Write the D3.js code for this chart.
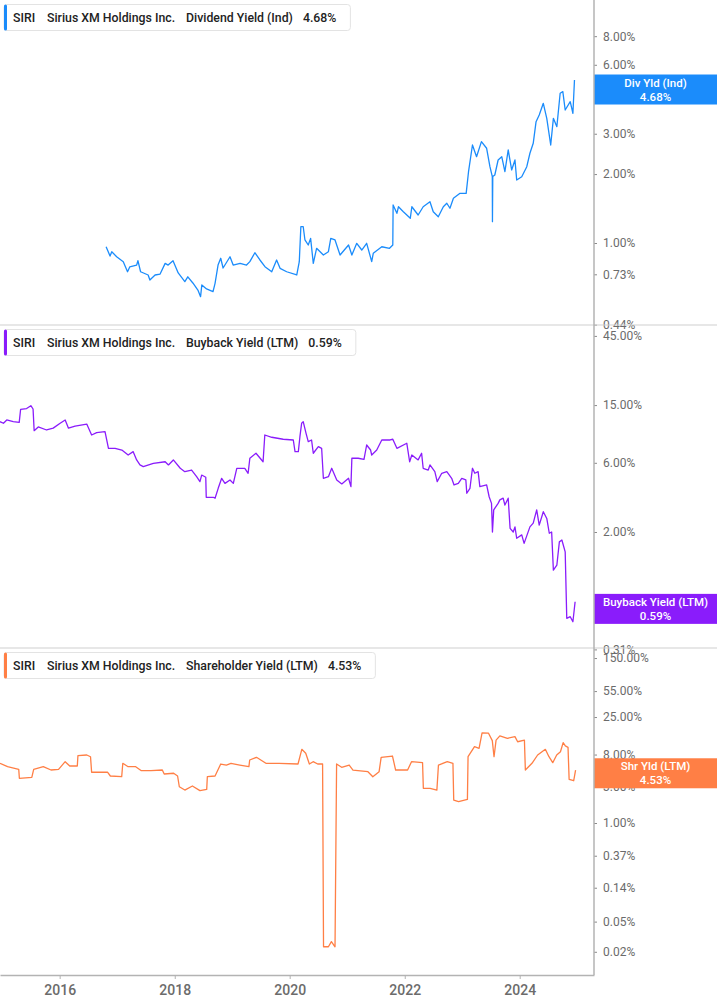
<!DOCTYPE html>
<html><head><meta charset="utf-8">
<script src="https://cdn.jsdelivr.net/npm/d3@7/dist/d3.min.js"></script>
<style>
html,body{margin:0;padding:0;background:#fff;}
svg{display:block;font-family:Roboto,"Noto Sans",sans-serif;}
</style></head><body>
<svg id="chart" width="717" height="1005"></svg>
<script>
// ---------- DATA ----------
const ticker = "SIRI";
const company = "Sirius XM Holdings Inc.";
const yearTicks = ["2016","2018","2020","2022","2024"];

const divTicks = [0.44, 0.73, 1, 2, 3, 6, 8];
const buyTicks = [0.31, 0.69, 2, 6, 15, 45];
const shrTicks = [0.02, 0.05, 0.14, 0.37, 1, 3, 8, 25, 55, 150];

const divYield = [["2016-10-22",0.963],["2016-11-16",0.877],["2016-11-27",0.916],["2016-12-28",0.871],["2017-02-08",0.829],["2017-03-07",0.749],["2017-03-21",0.786],["2017-05-04",0.801],["2017-05-12",0.837],["2017-05-29",0.749],["2017-07-16",0.725],["2017-07-27",0.689],["2017-08-29",0.725],["2017-09-30",0.732],["2017-11-01",0.815],["2017-11-20",0.801],["2017-12-21",0.837],["2018-01-23",0.740],["2018-03-06",0.678],["2018-03-25",0.712],["2018-04-26",0.669],["2018-05-28",0.623],["2018-06-14",0.583],["2018-06-22",0.656],["2018-07-22",0.630],["2018-09-01",0.613],["2018-09-14",0.667],["2018-10-03",0.801],["2018-10-20",0.858],["2018-11-04",0.778],["2018-12-18",0.871],["2019-01-07",0.801],["2019-02-20",0.815],["2019-04-02",0.801],["2019-04-23",0.829],["2019-05-25",0.907],["2019-06-26",0.843],["2019-07-28",0.788],["2019-09-09",0.749],["2019-10-10",0.843],["2019-11-01",0.775],["2019-12-13",0.749],["2020-02-15",0.725],["2020-03-02",0.829],["2020-03-12",1.178],["2020-03-27",1.178],["2020-04-07",1.031],["2020-04-28",0.980],["2020-05-13",1.048],["2020-05-30",0.815],["2020-06-20",0.948],["2020-08-02",0.886],["2020-09-03",0.916],["2020-09-18",1.048],["2020-10-15",1.031],["2020-11-16",0.886],["2021-01-09",0.980],["2021-01-30",0.886],["2021-03-02",0.997],["2021-04-03",0.932],["2021-05-04",0.997],["2021-06-05",0.829],["2021-06-15",0.902],["2021-08-08",0.963],["2021-09-26",0.948],["2021-10-17",0.980],["2021-10-19",1.466],["2021-11-12",1.348],["2021-11-22",1.440],["2021-12-23",1.370],["2022-02-05",1.282],["2022-02-15",1.440],["2022-03-27",1.325],["2022-04-28",1.440],["2022-06-10",1.514],["2022-07-01",1.370],["2022-08-02",1.302],["2022-09-03",1.440],["2022-09-25",1.491],["2022-10-15",1.418],["2022-11-06",1.567],["2022-12-18",1.648],["2023-01-26",1.648],["2023-02-10",2.048],["2023-03-07",2.679],["2023-04-02",2.382],["2023-05-03",2.770],["2023-06-05",2.592],["2023-06-26",2.154],["2023-07-11",1.950],["2023-07-12",1.239],["2023-07-14",1.950],["2023-07-27",1.981],["2023-08-17",2.304],["2023-09-09",2.382],["2023-09-29",2.048],["2023-10-20",2.548],["2023-11-11",2.084],["2023-12-02",2.304],["2023-12-13",1.884],["2024-01-14",1.948],["2024-02-15",2.154],["2024-03-06",2.465],["2024-03-27",2.725],["2024-04-14",3.386],["2024-05-04",3.622],["2024-05-30",4.074],["2024-06-21",3.503],["2024-07-16",2.679],["2024-08-02",3.503],["2024-08-24",3.220],["2024-09-14",4.506],["2024-10-01",4.579],["2024-10-16",3.809],["2024-11-17",4.140],["2024-12-04",3.685],["2024-12-14",5.150]];

const buybackYield = [["2014-12-18",11.53],["2015-01-09",11.24],["2015-01-30",11.84],["2015-03-12",11.53],["2015-04-19",11.40],["2015-04-28",14.03],["2015-06-05",14.20],["2015-07-02",14.86],["2015-07-16",14.10],["2015-07-23",9.99],["2015-08-18",10.60],["2015-10-10",10.10],["2015-11-21",10.40],["2016-01-04",11.24],["2016-02-05",11.84],["2016-02-26",10.40],["2016-04-08",10.75],["2016-06-21",11.10],["2016-07-22",9.33],["2016-08-23",9.68],["2016-10-15",9.84],["2016-11-06",7.55],["2016-12-18",7.55],["2017-01-30",7.35],["2017-03-11",6.79],["2017-04-12",7.16],["2017-05-04",6.28],["2017-05-25",5.80],["2017-06-15",5.64],["2017-08-18",5.95],["2017-11-01",6.10],["2017-11-22",5.80],["2017-12-23",6.28],["2018-02-05",5.50],["2018-03-06",5.21],["2018-04-18",5.35],["2018-05-20",4.81],["2018-06-10",4.45],["2018-06-21",4.94],["2018-07-17",4.77],["2018-07-20",3.47],["2018-09-03",3.47],["2018-09-14",3.42],["2018-10-04",4.00],["2018-10-26",4.69],["2018-11-16",4.33],["2018-12-18",4.57],["2019-01-08",4.33],["2019-01-30",5.50],["2019-03-22",5.50],["2019-04-12",5.08],["2019-04-23",6.45],["2019-06-01",6.98],["2019-07-16",6.10],["2019-07-27",9.33],["2019-09-09",9.00],["2019-11-21",8.72],["2020-01-24",8.62],["2020-02-04",7.16],["2020-02-25",7.16],["2020-03-06",9.08],["2020-03-17",11.24],["2020-03-27",11.53],["2020-04-14",9.58],["2020-04-28",8.39],["2020-05-19",8.62],["2020-05-30",6.98],["2020-07-01",7.75],["2020-07-22",7.55],["2020-08-02",4.69],["2020-09-03",4.81],["2020-09-24",5.50],["2020-10-26",4.57],["2020-11-27",4.29],["2021-01-09",4.69],["2021-01-24",4.11],["2021-01-30",6.45],["2021-03-11",6.45],["2021-04-17",6.34],["2021-05-04",7.96],["2021-05-29",7.35],["2021-06-05",6.79],["2021-07-07",7.35],["2021-08-08",8.62],["2021-09-30",8.62],["2021-10-17",8.72],["2021-11-12",7.55],["2022-01-14",8.18],["2022-02-01",6.10],["2022-02-15",6.79],["2022-03-27",6.28],["2022-04-18",6.98],["2022-04-28",5.50],["2022-05-30",5.35],["2022-06-10",5.80],["2022-07-11",5.21],["2022-07-26",4.45],["2022-08-24",5.08],["2022-09-25",5.21],["2022-10-26",4.69],["2022-11-10",4.22],["2022-12-07",4.33],["2022-12-29",4.69],["2023-01-24",4.57],["2023-01-30",3.70],["2023-02-19",4.00],["2023-03-07",5.50],["2023-03-22",5.08],["2023-04-12",5.21],["2023-04-23",4.11],["2023-06-05",4.22],["2023-06-21",3.50],["2023-07-06",3.15],["2023-07-12",2.00],["2023-07-20",2.84],["2023-08-17",3.15],["2023-08-28",3.33],["2023-09-18",3.42],["2023-09-29",3.07],["2023-10-20",3.42],["2023-11-01",2.12],["2023-11-21",2.00],["2023-12-02",2.17],["2023-12-13",1.81],["2024-01-14",1.91],["2024-01-29",1.67],["2024-03-06",2.17],["2024-03-27",2.30],["2024-04-18",2.84],["2024-05-04",2.23],["2024-05-30",2.76],["2024-06-21",2.48],["2024-07-07",1.96],["2024-07-22",2.00],["2024-08-02",1.09],["2024-08-24",1.18],["2024-09-09",1.71],["2024-09-25",1.76],["2024-10-16",1.46],["2024-10-26",0.508],["2024-11-17",0.521],["2024-12-04",0.481],["2024-12-18",0.661]];

const shareholderYield = [["2014-12-18",6.13],["2015-02-04",5.53],["2015-04-16",5.11],["2015-04-20",3.89],["2015-07-08",4.01],["2015-07-20",5.11],["2015-09-19",5.53],["2015-11-07",5.00],["2015-12-25",5.11],["2016-02-05",6.44],["2016-03-05",5.65],["2016-04-22",5.65],["2016-04-26",7.72],["2016-06-21",7.89],["2016-07-15",7.49],["2016-07-22",4.67],["2016-11-01",4.67],["2016-11-18",4.17],["2017-01-29",4.08],["2017-02-05",6.13],["2017-03-11",5.53],["2017-04-28",5.53],["2017-06-03",4.90],["2017-08-03",4.90],["2017-10-14",5.00],["2017-10-26",4.43],["2017-12-25",4.53],["2018-01-19",4.17],["2018-01-30",3.01],["2018-03-06",2.72],["2018-04-23",3.08],["2018-06-10",2.67],["2018-07-23",2.78],["2018-07-27",4.08],["2018-09-14",4.17],["2018-10-20",6.00],["2018-11-25",5.82],["2018-12-24",6.13],["2019-02-18",5.82],["2019-04-17",5.53],["2019-04-22",6.78],["2019-06-04",7.36],["2019-08-03",6.13],["2019-10-26",6.13],["2020-02-23",6.00],["2020-03-18",9.38],["2020-04-12",8.31],["2020-05-05",6.00],["2020-05-29",6.44],["2020-06-27",6.00],["2020-07-28",6.00],["2020-08-03",0.0233],["2020-09-03",0.0233],["2020-09-22",0.0272],["2020-10-15",0.0233],["2020-10-25",6.00],["2020-11-26",5.43],["2021-01-13",5.82],["2021-02-06",5.00],["2021-05-12",4.75],["2021-06-12",4.08],["2021-07-22",4.75],["2021-08-04",7.36],["2021-10-15",7.65],["2021-11-04",5.00],["2022-01-19",5.00],["2022-02-13",6.44],["2022-04-24",6.25],["2022-04-29",2.87],["2022-06-11",2.87],["2022-07-24",2.72],["2022-08-03",5.82],["2022-09-28",6.44],["2022-11-03",6.13],["2022-11-08",2.01],["2022-12-09",1.91],["2023-02-03",2.05],["2023-02-07",7.49],["2023-03-20",10.15],["2023-04-18",9.67],["2023-05-07",15.5],["2023-06-17",15.3],["2023-07-11",12.2],["2023-07-22",7.49],["2023-08-04",12.4],["2023-08-28",14.1],["2023-10-15",13.1],["2023-12-02",13.8],["2023-12-19",11.8],["2024-01-31",12.4],["2024-02-06",5.00],["2024-03-19",6.13],["2024-04-24",7.89],["2024-06-12",9.38],["2024-07-05",7.49],["2024-07-29",6.25],["2024-08-23",7.89],["2024-09-16",8.72],["2024-10-03",11.5],["2024-10-17",10.4],["2024-11-03",9.97],["2024-11-10",3.77],["2024-12-09",3.61],["2024-12-21",5.00]];

const metricNames = ["Dividend Yield (Ind)", "Buyback Yield (LTM)", "Shareholder Yield (LTM)"];
const shortNames = ["Div Yld (Ind)", "Buyback Yield (LTM)", "Shr Yld (LTM)"];
const lastValues = [4.68, 0.59, 4.53];
const seriesColors = ["#1b8cfb", "#8a1cfb", "#ff7f45"];

// ---------- LAYOUT ----------
const plotRight = 594, fullW = 717, axisBottomY = 975;
const parse = d3.timeParse("%Y-%m-%d");
const pct = d => d3.format(".2f")(d) + "%";

const svg = d3.select("#chart");
const x = d3.scaleTime()
  .domain([new Date(2014, 11, 18), new Date(2025, 3, 17)])
  .range([0, plotRight]);

const panels = [
  {data: divYield, ticks: divTicks, top: 0, bottom: 325, domain: [0.4385, 11.51]},
  {data: buybackYield, ticks: buyTicks, top: 325, bottom: 648, domain: [0.317, 53.5]},
  {data: shareholderYield, ticks: shrTicks, top: 648, bottom: 975, domain: [0.00988, 203.6]}
];

const defs = svg.append("defs");

panels.forEach((p, i) => {
  const y = d3.scaleLog().domain(p.domain).range([p.bottom, p.top]);
  const color = seriesColors[i];

  defs.append("clipPath").attr("id", "clip" + i)
    .append("rect").attr("x", 0).attr("y", p.top).attr("width", plotRight).attr("height", p.bottom - p.top);

  // separator
  if (i > 0) {
    svg.append("line").attr("x1", 0).attr("x2", fullW).attr("y1", p.top).attr("y2", p.top)
      .attr("stroke", "#cfcfcf").attr("stroke-width", 1);
  }

  // line
  const line = d3.line().x(d => x(parse(d[0]))).y(d => y(d[1]));
  svg.append("path").datum(p.data)
    .attr("clip-path", `url(#clip${i})`)
    .attr("fill", "none").attr("stroke", color).attr("stroke-width", 1.3)
    .attr("stroke-linejoin", "round")
    .attr("d", line);

  // right axis
  const ax = svg.append("g").attr("transform", `translate(${plotRight},0)`)
    .call(d3.axisRight(y).tickValues(p.ticks).tickFormat(pct).tickSize(3).tickPadding(6));
  ax.select(".domain").remove();
  ax.selectAll(".tick line").attr("stroke", "#8a8a8a");
  ax.selectAll(".tick text").attr("fill", "#6b6b6b").attr("font-size", 12)
    .attr("font-family", "Roboto, sans-serif");

  // legend box
  const lg = svg.append("g").attr("transform", `translate(4,${p.top + 4.5})`);
  const bg = lg.append("rect").attr("x", 0).attr("y", 0).attr("height", 26).attr("rx", 3)
    .attr("fill", "#fff").attr("stroke", "#e3e3e3");
  lg.append("rect").attr("x", 0).attr("y", 0).attr("width", 3).attr("height", 26).attr("rx", 1.5)
    .attr("fill", color);
  const tStyle = s => s.attr("y", 17.5).attr("font-size", 12.3).attr("font-weight", 500)
    .attr("fill", "#222").attr("font-family", "Roboto, sans-serif");
  lg.append("text").attr("x", 9).text(ticker).call(tStyle);
  lg.append("text").attr("x", 43).text(company).call(tStyle);
  const mt = lg.append("text").attr("x", 182).text(metricNames[i]).call(tStyle);
  const mEnd = 182 + mt.node().getComputedTextLength();
  const vt = lg.append("text").attr("x", mEnd + 10).text(pct(lastValues[i])).call(tStyle);
  const vEnd = mEnd + 10 + vt.node().getComputedTextLength();
  bg.attr("width", vEnd + 14);

  // last value label
  const cy = y(lastValues[i]);
  const lb = svg.append("g");
  lb.append("rect").attr("x", plotRight).attr("y", cy - 15).attr("width", fullW - plotRight).attr("height", 30)
    .attr("fill", color);
  const cx = plotRight + (fullW - plotRight) / 2;
  lb.append("text").attr("x", cx).attr("y", cy - 7).attr("text-anchor", "middle").attr("dominant-baseline", "central")
    .attr("fill", "#fff").attr("font-size", 11.5).attr("font-weight", 500).text(shortNames[i]);
  lb.append("text").attr("x", cx).attr("y", cy + 7).attr("text-anchor", "middle").attr("dominant-baseline", "central")
    .attr("fill", "#fff").attr("font-size", 11.5).attr("font-weight", 500).text(pct(lastValues[i]));
});

// right vertical axis line
svg.append("line").attr("x1", plotRight).attr("x2", plotRight).attr("y1", 0).attr("y2", axisBottomY)
  .attr("stroke", "#b3b3b3").attr("stroke-width", 1.5);

// bottom axis
const bx = svg.append("g").attr("transform", `translate(0,${axisBottomY})`)
  .call(d3.axisBottom(x).tickValues(yearTicks.map(t => new Date(+t, 0, 1)))
    .tickFormat(d3.timeFormat("%Y")).tickSize(4).tickSizeOuter(0).tickPadding(6));
bx.select(".domain").attr("stroke", "#b3b3b3").attr("stroke-width", 1.5);
bx.selectAll(".tick line").attr("stroke", "#b3b3b3");
bx.selectAll(".tick text").attr("fill", "#6b6b6b").attr("font-size", 14).attr("font-weight", 500)
  .attr("font-family", "Roboto, sans-serif");
</script>
</body></html>
